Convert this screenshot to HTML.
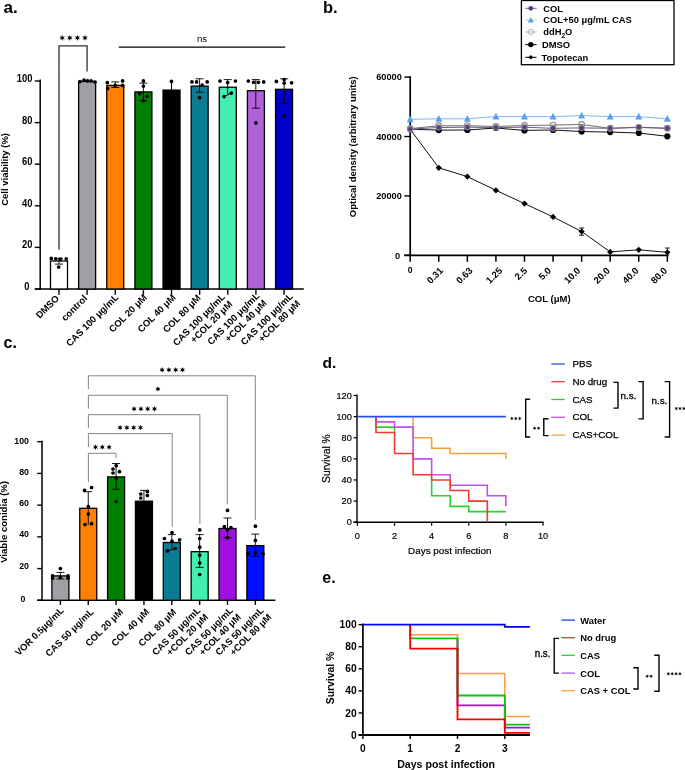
<!DOCTYPE html>
<html><head><meta charset="utf-8"><style>
html,body{margin:0;padding:0;background:#fff;width:685px;height:770px;overflow:hidden}
svg{display:block;font-family:"Liberation Sans", sans-serif;will-change:transform}
</style></head><body>
<svg width="685" height="770" viewBox="0 0 685 770">
<rect width="685" height="770" fill="#fff"/>
<text x="3.50" y="13.20" font-size="17" font-weight="bold" text-anchor="start" fill="#000">a.</text>
<line x1="40.20" y1="79.40" x2="40.20" y2="289.70" stroke="#000" stroke-width="1.5"/>
<line x1="34.80" y1="289.00" x2="40.20" y2="289.00" stroke="#000" stroke-width="1.4"/>
<text x="0.00" y="0.00" font-size="10.4" font-weight="bold" text-anchor="end" fill="#000" transform="translate(29.40 290.00) scale(0.9 1)">0</text>
<line x1="34.80" y1="247.40" x2="40.20" y2="247.40" stroke="#000" stroke-width="1.4"/>
<text x="0.00" y="0.00" font-size="10.4" font-weight="bold" text-anchor="end" fill="#000" transform="translate(32.40 248.40) scale(0.9 1)">20</text>
<line x1="34.80" y1="205.80" x2="40.20" y2="205.80" stroke="#000" stroke-width="1.4"/>
<text x="0.00" y="0.00" font-size="10.4" font-weight="bold" text-anchor="end" fill="#000" transform="translate(32.40 206.80) scale(0.9 1)">40</text>
<line x1="34.80" y1="164.20" x2="40.20" y2="164.20" stroke="#000" stroke-width="1.4"/>
<text x="0.00" y="0.00" font-size="10.4" font-weight="bold" text-anchor="end" fill="#000" transform="translate(32.40 165.20) scale(0.9 1)">60</text>
<line x1="34.80" y1="122.60" x2="40.20" y2="122.60" stroke="#000" stroke-width="1.4"/>
<text x="0.00" y="0.00" font-size="10.4" font-weight="bold" text-anchor="end" fill="#000" transform="translate(32.40 123.60) scale(0.9 1)">80</text>
<line x1="34.80" y1="81.00" x2="40.20" y2="81.00" stroke="#000" stroke-width="1.4"/>
<text x="0.00" y="0.00" font-size="10.4" font-weight="bold" text-anchor="end" fill="#000" transform="translate(32.40 82.00) scale(0.9 1)">100</text>
<line x1="34.80" y1="289.00" x2="303.80" y2="289.00" stroke="#000" stroke-width="1.5"/>
<rect x="50.50" y="261.00" width="17.00" height="28.00" fill="#ffffff" stroke="#000" stroke-width="1.3"/>
<line x1="59.00" y1="289.00" x2="59.00" y2="294.80" stroke="#000" stroke-width="1.4"/>
<rect x="78.63" y="81.40" width="17.00" height="207.60" fill="#a0a0a4" stroke="#000" stroke-width="1.3"/>
<line x1="87.13" y1="289.00" x2="87.13" y2="294.80" stroke="#000" stroke-width="1.4"/>
<rect x="106.76" y="85.40" width="17.00" height="203.60" fill="#ff8000" stroke="#000" stroke-width="1.3"/>
<line x1="115.26" y1="289.00" x2="115.26" y2="294.80" stroke="#000" stroke-width="1.4"/>
<rect x="134.89" y="91.90" width="17.00" height="197.10" fill="#008000" stroke="#000" stroke-width="1.3"/>
<line x1="143.39" y1="289.00" x2="143.39" y2="294.80" stroke="#000" stroke-width="1.4"/>
<rect x="163.02" y="90.10" width="17.00" height="198.90" fill="#000000" stroke="#000" stroke-width="1.3"/>
<line x1="171.52" y1="289.00" x2="171.52" y2="294.80" stroke="#000" stroke-width="1.4"/>
<rect x="191.15" y="86.10" width="17.00" height="202.90" fill="#0a7c93" stroke="#000" stroke-width="1.3"/>
<line x1="199.65" y1="289.00" x2="199.65" y2="294.80" stroke="#000" stroke-width="1.4"/>
<rect x="219.28" y="87.20" width="17.00" height="201.80" fill="#44eeb0" stroke="#000" stroke-width="1.3"/>
<line x1="227.78" y1="289.00" x2="227.78" y2="294.80" stroke="#000" stroke-width="1.4"/>
<rect x="247.41" y="90.70" width="17.00" height="198.30" fill="#b060d8" stroke="#000" stroke-width="1.3"/>
<line x1="255.91" y1="289.00" x2="255.91" y2="294.80" stroke="#000" stroke-width="1.4"/>
<rect x="275.54" y="89.30" width="17.00" height="199.70" fill="#0000c8" stroke="#000" stroke-width="1.3"/>
<line x1="284.04" y1="289.00" x2="284.04" y2="294.80" stroke="#000" stroke-width="1.4"/>
<line x1="59.00" y1="258.30" x2="59.00" y2="264.10" stroke="#000" stroke-width="0.9"/>
<line x1="55.00" y1="258.30" x2="63.00" y2="258.30" stroke="#000" stroke-width="0.9"/>
<line x1="55.00" y1="264.10" x2="63.00" y2="264.10" stroke="#000" stroke-width="0.9"/>
<circle cx="51.30" cy="258.40" r="1.85" fill="#000" stroke="none" stroke-width="0"/>
<circle cx="55.70" cy="258.80" r="1.85" fill="#000" stroke="none" stroke-width="0"/>
<circle cx="60.40" cy="259.20" r="1.85" fill="#000" stroke="none" stroke-width="0"/>
<circle cx="66.20" cy="258.80" r="1.85" fill="#000" stroke="none" stroke-width="0"/>
<circle cx="58.70" cy="267.10" r="1.85" fill="#000" stroke="none" stroke-width="0"/>
<circle cx="80.00" cy="81.60" r="1.85" fill="#000" stroke="none" stroke-width="0"/>
<circle cx="84.00" cy="80.00" r="1.85" fill="#000" stroke="none" stroke-width="0"/>
<circle cx="87.50" cy="80.90" r="1.85" fill="#000" stroke="none" stroke-width="0"/>
<circle cx="91.00" cy="80.90" r="1.85" fill="#000" stroke="none" stroke-width="0"/>
<circle cx="95.00" cy="82.00" r="1.85" fill="#000" stroke="none" stroke-width="0"/>
<line x1="115.30" y1="81.90" x2="115.30" y2="87.50" stroke="#000" stroke-width="0.9"/>
<line x1="111.30" y1="81.90" x2="119.30" y2="81.90" stroke="#000" stroke-width="0.9"/>
<line x1="111.30" y1="87.50" x2="119.30" y2="87.50" stroke="#000" stroke-width="0.9"/>
<circle cx="107.30" cy="82.60" r="1.85" fill="#000" stroke="none" stroke-width="0"/>
<circle cx="122.60" cy="80.90" r="1.85" fill="#000" stroke="none" stroke-width="0"/>
<circle cx="115.20" cy="85.40" r="1.85" fill="#000" stroke="none" stroke-width="0"/>
<circle cx="107.70" cy="88.40" r="1.85" fill="#000" stroke="none" stroke-width="0"/>
<circle cx="122.60" cy="85.40" r="1.85" fill="#000" stroke="none" stroke-width="0"/>
<line x1="143.40" y1="83.10" x2="143.40" y2="100.70" stroke="#000" stroke-width="0.9"/>
<line x1="139.40" y1="83.10" x2="147.40" y2="83.10" stroke="#000" stroke-width="0.9"/>
<line x1="139.40" y1="100.70" x2="147.40" y2="100.70" stroke="#000" stroke-width="0.9"/>
<circle cx="143.40" cy="80.90" r="1.85" fill="#000" stroke="none" stroke-width="0"/>
<circle cx="143.40" cy="86.10" r="1.85" fill="#000" stroke="none" stroke-width="0"/>
<circle cx="139.70" cy="93.70" r="1.85" fill="#000" stroke="none" stroke-width="0"/>
<circle cx="147.10" cy="96.30" r="1.85" fill="#000" stroke="none" stroke-width="0"/>
<circle cx="143.40" cy="100.70" r="1.85" fill="#000" stroke="none" stroke-width="0"/>
<line x1="171.50" y1="81.40" x2="171.50" y2="90.10" stroke="#000" stroke-width="1"/>
<circle cx="171.50" cy="81.40" r="1.85" fill="#000" stroke="none" stroke-width="0"/>
<line x1="199.60" y1="78.80" x2="199.60" y2="92.20" stroke="#000" stroke-width="0.9"/>
<line x1="195.60" y1="78.80" x2="203.60" y2="78.80" stroke="#000" stroke-width="0.9"/>
<line x1="195.60" y1="92.20" x2="203.60" y2="92.20" stroke="#000" stroke-width="0.9"/>
<circle cx="191.90" cy="81.90" r="1.85" fill="#000" stroke="none" stroke-width="0"/>
<circle cx="196.60" cy="81.90" r="1.85" fill="#000" stroke="none" stroke-width="0"/>
<circle cx="202.20" cy="85.00" r="1.85" fill="#000" stroke="none" stroke-width="0"/>
<circle cx="207.20" cy="81.90" r="1.85" fill="#000" stroke="none" stroke-width="0"/>
<circle cx="199.60" cy="97.70" r="1.85" fill="#000" stroke="none" stroke-width="0"/>
<line x1="227.70" y1="79.60" x2="227.70" y2="94.00" stroke="#000" stroke-width="0.9"/>
<line x1="223.70" y1="79.60" x2="231.70" y2="79.60" stroke="#000" stroke-width="0.9"/>
<circle cx="220.00" cy="81.00" r="1.85" fill="#000" stroke="none" stroke-width="0"/>
<circle cx="227.70" cy="82.60" r="1.85" fill="#000" stroke="none" stroke-width="0"/>
<circle cx="235.40" cy="81.00" r="1.85" fill="#000" stroke="none" stroke-width="0"/>
<circle cx="224.10" cy="96.60" r="1.85" fill="#000" stroke="none" stroke-width="0"/>
<circle cx="231.30" cy="93.10" r="1.85" fill="#000" stroke="none" stroke-width="0"/>
<line x1="224.10" y1="96.60" x2="231.30" y2="93.10" stroke="#000" stroke-width="1"/>
<line x1="255.80" y1="79.60" x2="255.80" y2="108.20" stroke="#000" stroke-width="0.9"/>
<line x1="251.80" y1="79.60" x2="259.80" y2="79.60" stroke="#000" stroke-width="0.9"/>
<line x1="251.80" y1="108.20" x2="259.80" y2="108.20" stroke="#000" stroke-width="0.9"/>
<circle cx="248.30" cy="81.00" r="1.85" fill="#000" stroke="none" stroke-width="0"/>
<circle cx="253.60" cy="82.30" r="1.85" fill="#000" stroke="none" stroke-width="0"/>
<circle cx="258.30" cy="82.30" r="1.85" fill="#000" stroke="none" stroke-width="0"/>
<circle cx="263.70" cy="81.90" r="1.85" fill="#000" stroke="none" stroke-width="0"/>
<circle cx="255.80" cy="122.90" r="1.85" fill="#000" stroke="none" stroke-width="0"/>
<line x1="284.20" y1="78.80" x2="284.20" y2="103.60" stroke="#000" stroke-width="0.9"/>
<line x1="280.20" y1="78.80" x2="288.20" y2="78.80" stroke="#000" stroke-width="0.9"/>
<line x1="280.20" y1="103.60" x2="288.20" y2="103.60" stroke="#000" stroke-width="0.9"/>
<circle cx="276.40" cy="81.40" r="1.85" fill="#000" stroke="none" stroke-width="0"/>
<circle cx="284.20" cy="79.60" r="1.85" fill="#000" stroke="none" stroke-width="0"/>
<circle cx="284.20" cy="83.10" r="1.85" fill="#000" stroke="none" stroke-width="0"/>
<circle cx="291.60" cy="82.80" r="1.85" fill="#000" stroke="none" stroke-width="0"/>
<circle cx="284.20" cy="115.90" r="1.85" fill="#000" stroke="none" stroke-width="0"/>
<path d="M59,249.7 L59,45.9 L87.1,45.9 L87.1,71.4" stroke="#333" stroke-width="1.3" fill="none"/>
<polygon points="62.20,34.80 62.82,36.83 64.88,36.35 63.44,37.90 64.88,39.45 62.82,38.97 62.20,41.00 61.58,38.97 59.52,39.45 60.96,37.90 59.52,36.35 61.58,36.83" fill="#000"/>
<polygon points="69.80,34.80 70.42,36.83 72.48,36.35 71.04,37.90 72.48,39.45 70.42,38.97 69.80,41.00 69.18,38.97 67.12,39.45 68.56,37.90 67.12,36.35 69.18,36.83" fill="#000"/>
<polygon points="77.40,34.80 78.02,36.83 80.08,36.35 78.64,37.90 80.08,39.45 78.02,38.97 77.40,41.00 76.78,38.97 74.72,39.45 76.16,37.90 74.72,36.35 76.78,36.83" fill="#000"/>
<polygon points="85.00,34.80 85.62,36.83 87.68,36.35 86.24,37.90 87.68,39.45 85.62,38.97 85.00,41.00 84.38,38.97 82.32,39.45 83.76,37.90 82.32,36.35 84.38,36.83" fill="#000"/>
<line x1="118.80" y1="47.20" x2="285.20" y2="47.20" stroke="#000" stroke-width="1.3"/>
<text x="202.00" y="42.00" font-size="9.6" text-anchor="middle" fill="#000">ns</text>
<text x="7.80" y="169.40" font-size="9.5" font-weight="bold" text-anchor="middle" fill="#000" transform="rotate(-90 7.80 169.40)">Cell viability (%)</text>
<text x="59.70" y="299.00" font-size="9.45" font-weight="bold" text-anchor="end" fill="#000" transform="rotate(-45 59.70 299.00)">DMSO</text>
<text x="87.83" y="299.00" font-size="9.45" font-weight="bold" text-anchor="end" fill="#000" transform="rotate(-45 87.83 299.00)">control</text>
<text x="118.96" y="298.00" font-size="9.45" font-weight="bold" text-anchor="end" fill="#000" transform="rotate(-45 118.96 298.00)">CAS 100 μg/mL</text>
<text x="147.59" y="298.20" font-size="9.45" font-weight="bold" text-anchor="end" fill="#000" transform="rotate(-45 147.59 298.20)">COL 20 μM</text>
<text x="176.22" y="298.20" font-size="9.45" font-weight="bold" text-anchor="end" fill="#000" transform="rotate(-45 176.22 298.20)">COL 40 μM</text>
<text x="201.45" y="298.50" font-size="9.45" font-weight="bold" text-anchor="end" fill="#000" transform="rotate(-45 201.45 298.50)">COL 80 μM</text>
<text x="225.68" y="297.50" font-size="9.45" font-weight="bold" text-anchor="end" fill="#000" transform="rotate(-45 225.68 297.50)">CAS 100 μg/mL</text>
<text x="232.96" y="304.78" font-size="9.45" font-weight="bold" text-anchor="end" fill="#000" transform="rotate(-45 232.96 304.78)">+COL 20 μM</text>
<text x="260.11" y="296.50" font-size="9.45" font-weight="bold" text-anchor="end" fill="#000" transform="rotate(-45 260.11 296.50)">CAS 100 μg/mL</text>
<text x="267.39" y="303.78" font-size="9.45" font-weight="bold" text-anchor="end" fill="#000" transform="rotate(-45 267.39 303.78)">+COL 40 μM</text>
<text x="293.54" y="296.80" font-size="9.45" font-weight="bold" text-anchor="end" fill="#000" transform="rotate(-45 293.54 296.80)">CAS 100 μg/mL</text>
<text x="300.82" y="304.08" font-size="9.45" font-weight="bold" text-anchor="end" fill="#000" transform="rotate(-45 300.82 304.08)">+COL 80 μM</text>
<text x="323.00" y="13.00" font-size="16.5" font-weight="bold" text-anchor="start" fill="#000">b.</text>
<line x1="410.20" y1="76.20" x2="410.20" y2="256.10" stroke="#000" stroke-width="1.7"/>
<line x1="404.30" y1="255.30" x2="410.20" y2="255.30" stroke="#000" stroke-width="1.4"/>
<text x="400.20" y="258.60" font-size="9.2" font-weight="bold" text-anchor="end" fill="#000">0</text>
<line x1="404.30" y1="195.90" x2="410.20" y2="195.90" stroke="#000" stroke-width="1.4"/>
<text x="401.80" y="199.20" font-size="9.2" font-weight="bold" text-anchor="end" fill="#000">20000</text>
<line x1="404.30" y1="136.50" x2="410.20" y2="136.50" stroke="#000" stroke-width="1.4"/>
<text x="401.80" y="139.80" font-size="9.2" font-weight="bold" text-anchor="end" fill="#000">40000</text>
<line x1="404.30" y1="77.10" x2="410.20" y2="77.10" stroke="#000" stroke-width="1.4"/>
<text x="401.80" y="80.40" font-size="9.2" font-weight="bold" text-anchor="end" fill="#000">60000</text>
<line x1="404.30" y1="255.30" x2="668.60" y2="255.30" stroke="#000" stroke-width="1.7"/>
<line x1="410.20" y1="255.30" x2="410.20" y2="261.80" stroke="#000" stroke-width="1.5"/>
<line x1="438.77" y1="255.30" x2="438.77" y2="261.80" stroke="#000" stroke-width="1.5"/>
<line x1="467.34" y1="255.30" x2="467.34" y2="261.80" stroke="#000" stroke-width="1.5"/>
<line x1="495.91" y1="255.30" x2="495.91" y2="261.80" stroke="#000" stroke-width="1.5"/>
<line x1="524.48" y1="255.30" x2="524.48" y2="261.80" stroke="#000" stroke-width="1.5"/>
<line x1="553.05" y1="255.30" x2="553.05" y2="261.80" stroke="#000" stroke-width="1.5"/>
<line x1="581.62" y1="255.30" x2="581.62" y2="261.80" stroke="#000" stroke-width="1.5"/>
<line x1="610.19" y1="255.30" x2="610.19" y2="261.80" stroke="#000" stroke-width="1.5"/>
<line x1="638.76" y1="255.30" x2="638.76" y2="261.80" stroke="#000" stroke-width="1.5"/>
<line x1="667.33" y1="255.30" x2="667.33" y2="261.80" stroke="#000" stroke-width="1.5"/>
<text x="410.20" y="273.00" font-size="8.6" font-weight="bold" text-anchor="middle" fill="#000">0</text>
<text x="443.77" y="271.20" font-size="9.5" font-weight="bold" text-anchor="end" fill="#000" transform="rotate(-45 443.77 271.20)">0.31</text>
<text x="473.14" y="271.20" font-size="9.5" font-weight="bold" text-anchor="end" fill="#000" transform="rotate(-45 473.14 271.20)">0.63</text>
<text x="502.91" y="271.20" font-size="9.5" font-weight="bold" text-anchor="end" fill="#000" transform="rotate(-45 502.91 271.20)">1.25</text>
<text x="527.98" y="271.20" font-size="9.5" font-weight="bold" text-anchor="end" fill="#000" transform="rotate(-45 527.98 271.20)">2.5</text>
<text x="551.85" y="271.20" font-size="9.5" font-weight="bold" text-anchor="end" fill="#000" transform="rotate(-45 551.85 271.20)">5.0</text>
<text x="581.12" y="271.20" font-size="9.5" font-weight="bold" text-anchor="end" fill="#000" transform="rotate(-45 581.12 271.20)">10.0</text>
<text x="610.49" y="271.20" font-size="9.5" font-weight="bold" text-anchor="end" fill="#000" transform="rotate(-45 610.49 271.20)">20.0</text>
<text x="639.26" y="271.20" font-size="9.5" font-weight="bold" text-anchor="end" fill="#000" transform="rotate(-45 639.26 271.20)">40.0</text>
<text x="667.83" y="271.20" font-size="9.5" font-weight="bold" text-anchor="end" fill="#000" transform="rotate(-45 667.83 271.20)">80.0</text>
<text x="549.30" y="302.20" font-size="9.5" font-weight="bold" text-anchor="middle" fill="#000">COL (μM)</text>
<text x="355.60" y="146.70" font-size="9.5" font-weight="bold" text-anchor="middle" fill="#000" transform="rotate(-90 355.60 146.70)">Optical density (arbitrary units)</text>
<path d="M410.20,119.40 L438.77,118.80 L467.34,118.80 L495.91,116.60 L524.48,116.60 L553.05,116.60 L581.62,115.60 L610.19,116.60 L638.76,116.60 L667.33,118.80" stroke="#80b8f8" stroke-width="1.0" fill="none"/>
<path d="M410.20,128.60 L438.77,125.80 L467.34,125.70 L495.91,126.50 L524.48,125.50 L553.05,125.10 L581.62,124.50 L610.19,128.30 L638.76,127.50 L667.33,128.30" stroke="#6e6e6e" stroke-width="1.0" fill="none"/>
<path d="M410.20,129.20 L438.77,130.10 L467.34,130.00 L495.91,128.00 L524.48,130.40 L553.05,130.00 L581.62,131.50 L610.19,132.10 L638.76,133.00 L667.33,136.30" stroke="#111" stroke-width="1.0" fill="none"/>
<path d="M410.20,129.20 L438.77,127.50 L467.34,127.20 L495.91,127.50 L524.48,127.20 L553.05,128.30 L581.62,127.90 L610.19,128.30 L638.76,127.20 L667.33,128.30" stroke="#6a5a7a" stroke-width="1.0" fill="none"/>
<path d="M410.20,129.20 L438.77,167.80 L467.34,176.60 L495.91,190.30 L524.48,203.60 L553.05,216.90 L581.62,231.50 L610.19,251.90 L638.76,249.80 L667.33,252.30" stroke="#111" stroke-width="1.0" fill="none"/>
<path d="M410.20,126.10 L413.30,129.20 L410.20,132.30 L407.10,129.20 Z" fill="#000"/>
<path d="M438.77,164.70 L441.87,167.80 L438.77,170.90 L435.67,167.80 Z" fill="#000"/>
<path d="M467.34,173.50 L470.44,176.60 L467.34,179.70 L464.24,176.60 Z" fill="#000"/>
<path d="M495.91,187.20 L499.01,190.30 L495.91,193.40 L492.81,190.30 Z" fill="#000"/>
<path d="M524.48,200.50 L527.58,203.60 L524.48,206.70 L521.38,203.60 Z" fill="#000"/>
<path d="M553.05,213.80 L556.15,216.90 L553.05,220.00 L549.95,216.90 Z" fill="#000"/>
<path d="M581.62,228.40 L584.72,231.50 L581.62,234.60 L578.52,231.50 Z" fill="#000"/>
<path d="M610.19,248.80 L613.29,251.90 L610.19,255.00 L607.09,251.90 Z" fill="#000"/>
<path d="M638.76,246.70 L641.86,249.80 L638.76,252.90 L635.66,249.80 Z" fill="#000"/>
<path d="M667.33,249.20 L670.43,252.30 L667.33,255.40 L664.23,252.30 Z" fill="#000"/>
<circle cx="410.20" cy="129.20" r="3.1" fill="#000" stroke="none" stroke-width="0"/>
<circle cx="438.77" cy="130.10" r="3.1" fill="#000" stroke="none" stroke-width="0"/>
<circle cx="467.34" cy="130.00" r="3.1" fill="#000" stroke="none" stroke-width="0"/>
<circle cx="495.91" cy="128.00" r="3.1" fill="#000" stroke="none" stroke-width="0"/>
<circle cx="524.48" cy="130.40" r="3.1" fill="#000" stroke="none" stroke-width="0"/>
<circle cx="553.05" cy="130.00" r="3.1" fill="#000" stroke="none" stroke-width="0"/>
<circle cx="581.62" cy="131.50" r="3.1" fill="#000" stroke="none" stroke-width="0"/>
<circle cx="610.19" cy="132.10" r="3.1" fill="#000" stroke="none" stroke-width="0"/>
<circle cx="638.76" cy="133.00" r="3.1" fill="#000" stroke="none" stroke-width="0"/>
<circle cx="667.33" cy="136.30" r="3.1" fill="#000" stroke="none" stroke-width="0"/>
<circle cx="410.20" cy="128.60" r="2.9" fill="none" stroke="#8a8a8a" stroke-width="1.1"/>
<circle cx="438.77" cy="125.80" r="2.9" fill="none" stroke="#8a8a8a" stroke-width="1.1"/>
<circle cx="467.34" cy="125.70" r="2.9" fill="none" stroke="#8a8a8a" stroke-width="1.1"/>
<circle cx="495.91" cy="126.50" r="2.9" fill="none" stroke="#8a8a8a" stroke-width="1.1"/>
<circle cx="524.48" cy="125.50" r="2.9" fill="none" stroke="#8a8a8a" stroke-width="1.1"/>
<circle cx="553.05" cy="125.10" r="2.9" fill="none" stroke="#8a8a8a" stroke-width="1.1"/>
<circle cx="581.62" cy="124.50" r="2.9" fill="none" stroke="#8a8a8a" stroke-width="1.1"/>
<circle cx="610.19" cy="128.30" r="2.9" fill="none" stroke="#8a8a8a" stroke-width="1.1"/>
<circle cx="638.76" cy="127.50" r="2.9" fill="none" stroke="#8a8a8a" stroke-width="1.1"/>
<circle cx="667.33" cy="128.30" r="2.9" fill="none" stroke="#8a8a8a" stroke-width="1.1"/>
<circle cx="410.20" cy="129.20" r="2.8" fill="#5c3c7c" stroke="#9a90a4" stroke-width="1.0"/>
<circle cx="438.77" cy="127.50" r="2.8" fill="#5c3c7c" stroke="#9a90a4" stroke-width="1.0"/>
<circle cx="467.34" cy="127.20" r="2.8" fill="#5c3c7c" stroke="#9a90a4" stroke-width="1.0"/>
<circle cx="495.91" cy="127.50" r="2.8" fill="#5c3c7c" stroke="#9a90a4" stroke-width="1.0"/>
<circle cx="524.48" cy="127.20" r="2.8" fill="#5c3c7c" stroke="#9a90a4" stroke-width="1.0"/>
<circle cx="553.05" cy="128.30" r="2.8" fill="#5c3c7c" stroke="#9a90a4" stroke-width="1.0"/>
<circle cx="581.62" cy="127.90" r="2.8" fill="#5c3c7c" stroke="#9a90a4" stroke-width="1.0"/>
<circle cx="610.19" cy="128.30" r="2.8" fill="#5c3c7c" stroke="#9a90a4" stroke-width="1.0"/>
<circle cx="638.76" cy="127.20" r="2.8" fill="#5c3c7c" stroke="#9a90a4" stroke-width="1.0"/>
<circle cx="667.33" cy="128.30" r="2.8" fill="#5c3c7c" stroke="#9a90a4" stroke-width="1.0"/>
<path d="M410.20,115.60 L413.70,122.30 L406.70,122.30 Z" fill="#5aa0f0"/>
<path d="M438.77,115.00 L442.27,121.70 L435.27,121.70 Z" fill="#5aa0f0"/>
<path d="M467.34,115.00 L470.84,121.70 L463.84,121.70 Z" fill="#5aa0f0"/>
<path d="M495.91,112.80 L499.41,119.50 L492.41,119.50 Z" fill="#5aa0f0"/>
<path d="M524.48,112.80 L527.98,119.50 L520.98,119.50 Z" fill="#5aa0f0"/>
<path d="M553.05,112.80 L556.55,119.50 L549.55,119.50 Z" fill="#5aa0f0"/>
<path d="M581.62,111.80 L585.12,118.50 L578.12,118.50 Z" fill="#5aa0f0"/>
<path d="M610.19,112.80 L613.69,119.50 L606.69,119.50 Z" fill="#5aa0f0"/>
<path d="M638.76,112.80 L642.26,119.50 L635.26,119.50 Z" fill="#5aa0f0"/>
<path d="M667.33,115.00 L670.83,121.70 L663.83,121.70 Z" fill="#5aa0f0"/>
<line x1="581.62" y1="228.00" x2="581.62" y2="235.20" stroke="#000" stroke-width="0.9"/>
<line x1="579.12" y1="228.00" x2="584.12" y2="228.00" stroke="#000" stroke-width="0.9"/>
<line x1="579.12" y1="235.20" x2="584.12" y2="235.20" stroke="#000" stroke-width="0.9"/>
<line x1="667.33" y1="248.00" x2="667.33" y2="256.00" stroke="#000" stroke-width="0.9"/>
<line x1="664.83" y1="248.00" x2="669.83" y2="248.00" stroke="#000" stroke-width="0.9"/>
<rect x="521.40" y="0.50" width="152.60" height="64.20" fill="none" stroke="#000" stroke-width="1.3"/>
<line x1="525.20" y1="8.30" x2="536.60" y2="8.30" stroke="#7a6a90" stroke-width="1.0"/>
<text x="543.20" y="11.50" font-size="9.4" font-weight="bold" text-anchor="start" fill="#000">COL</text>
<line x1="525.20" y1="20.10" x2="536.60" y2="20.10" stroke="#a8d0f8" stroke-width="1.0"/>
<text x="543.20" y="23.30" font-size="9.4" font-weight="bold" text-anchor="start" fill="#000">COL+50 μg/mL CAS</text>
<line x1="525.20" y1="32.00" x2="536.60" y2="32.00" stroke="#b8b8b8" stroke-width="1.0"/>
<text x="543.20" y="35.20" font-size="9.4" font-weight="bold" text-anchor="start" fill="#000">ddH<tspan font-size="6.5" dy="2.5">2</tspan><tspan dy="-2.5">O</tspan></text>
<line x1="525.20" y1="44.60" x2="536.60" y2="44.60" stroke="#000" stroke-width="1.0"/>
<text x="542.00" y="47.80" font-size="9.4" font-weight="bold" text-anchor="start" fill="#000">DMSO</text>
<line x1="525.20" y1="57.30" x2="536.60" y2="57.30" stroke="#000" stroke-width="1.0"/>
<text x="541.60" y="60.50" font-size="9.4" font-weight="bold" text-anchor="start" fill="#000">Topotecan</text>
<circle cx="530.80" cy="8.30" r="2.4" fill="#5c3c7c" stroke="none" stroke-width="0"/>
<path d="M530.8,17.0 L533.8,22.6 L527.8,22.6 Z" fill="#5aa0f0"/>
<circle cx="530.80" cy="32.00" r="2.6" fill="none" stroke="#b0b0b0" stroke-width="1.0"/>
<circle cx="530.80" cy="44.60" r="2.7" fill="#000" stroke="none" stroke-width="0"/>
<path d="M530.8,55.0 L533.1,57.3 L530.8,59.6 L528.5,57.3 Z" fill="#000"/>
<text x="3.50" y="348.20" font-size="16" font-weight="bold" text-anchor="start" fill="#000">c.</text>
<line x1="42.00" y1="440.80" x2="42.00" y2="601.00" stroke="#000" stroke-width="1.5"/>
<line x1="37.20" y1="600.30" x2="42.00" y2="600.30" stroke="#000" stroke-width="1.4"/>
<text x="0.00" y="0.00" font-size="9.5" font-weight="bold" text-anchor="end" fill="#000" transform="translate(25.30 602.00) scale(0.93 1)">0</text>
<line x1="37.20" y1="568.58" x2="42.00" y2="568.58" stroke="#000" stroke-width="1.4"/>
<text x="0.00" y="0.00" font-size="9.5" font-weight="bold" text-anchor="end" fill="#000" transform="translate(29.00 568.68) scale(0.93 1)">20</text>
<line x1="37.20" y1="536.86" x2="42.00" y2="536.86" stroke="#000" stroke-width="1.4"/>
<text x="0.00" y="0.00" font-size="9.5" font-weight="bold" text-anchor="end" fill="#000" transform="translate(29.00 537.36) scale(0.93 1)">40</text>
<line x1="37.20" y1="505.14" x2="42.00" y2="505.14" stroke="#000" stroke-width="1.4"/>
<text x="0.00" y="0.00" font-size="9.5" font-weight="bold" text-anchor="end" fill="#000" transform="translate(29.00 506.04) scale(0.93 1)">60</text>
<line x1="37.20" y1="473.42" x2="42.00" y2="473.42" stroke="#000" stroke-width="1.4"/>
<text x="0.00" y="0.00" font-size="9.5" font-weight="bold" text-anchor="end" fill="#000" transform="translate(29.00 474.62) scale(0.93 1)">80</text>
<line x1="37.20" y1="441.70" x2="42.00" y2="441.70" stroke="#000" stroke-width="1.4"/>
<text x="0.00" y="0.00" font-size="9.5" font-weight="bold" text-anchor="end" fill="#000" transform="translate(29.00 443.80) scale(0.93 1)">100</text>
<line x1="37.20" y1="600.30" x2="275.40" y2="600.30" stroke="#000" stroke-width="1.5"/>
<rect x="51.90" y="575.90" width="17.00" height="24.40" fill="#a0a0a4" stroke="#000" stroke-width="1.3"/>
<line x1="60.40" y1="600.30" x2="60.40" y2="604.90" stroke="#000" stroke-width="1.4"/>
<rect x="79.75" y="508.30" width="17.00" height="92.00" fill="#ff8000" stroke="#000" stroke-width="1.3"/>
<line x1="88.25" y1="600.30" x2="88.25" y2="604.90" stroke="#000" stroke-width="1.4"/>
<rect x="107.60" y="476.90" width="17.00" height="123.40" fill="#008000" stroke="#000" stroke-width="1.3"/>
<line x1="116.10" y1="600.30" x2="116.10" y2="604.90" stroke="#000" stroke-width="1.4"/>
<rect x="135.45" y="501.20" width="17.00" height="99.10" fill="#000000" stroke="#000" stroke-width="1.3"/>
<line x1="143.95" y1="600.30" x2="143.95" y2="604.90" stroke="#000" stroke-width="1.4"/>
<rect x="163.30" y="542.50" width="17.00" height="57.80" fill="#0a7c93" stroke="#000" stroke-width="1.3"/>
<line x1="171.80" y1="600.30" x2="171.80" y2="604.90" stroke="#000" stroke-width="1.4"/>
<rect x="191.15" y="551.70" width="17.00" height="48.60" fill="#44eeb0" stroke="#000" stroke-width="1.3"/>
<line x1="199.65" y1="600.30" x2="199.65" y2="604.90" stroke="#000" stroke-width="1.4"/>
<rect x="219.00" y="528.50" width="17.00" height="71.80" fill="#a010e0" stroke="#000" stroke-width="1.3"/>
<line x1="227.50" y1="600.30" x2="227.50" y2="604.90" stroke="#000" stroke-width="1.4"/>
<rect x="246.85" y="545.60" width="17.00" height="54.70" fill="#0010ff" stroke="#000" stroke-width="1.3"/>
<line x1="255.35" y1="600.30" x2="255.35" y2="604.90" stroke="#000" stroke-width="1.4"/>
<line x1="60.40" y1="572.40" x2="60.40" y2="579.00" stroke="#000" stroke-width="0.9"/>
<line x1="56.40" y1="572.40" x2="64.40" y2="572.40" stroke="#000" stroke-width="0.9"/>
<line x1="56.40" y1="579.00" x2="64.40" y2="579.00" stroke="#000" stroke-width="0.9"/>
<circle cx="60.40" cy="568.50" r="1.85" fill="#000" stroke="none" stroke-width="0"/>
<circle cx="52.60" cy="575.90" r="1.85" fill="#000" stroke="none" stroke-width="0"/>
<circle cx="68.00" cy="575.90" r="1.85" fill="#000" stroke="none" stroke-width="0"/>
<circle cx="60.40" cy="577.30" r="1.85" fill="#000" stroke="none" stroke-width="0"/>
<circle cx="52.60" cy="578.20" r="1.85" fill="#000" stroke="none" stroke-width="0"/>
<circle cx="68.00" cy="578.20" r="1.85" fill="#000" stroke="none" stroke-width="0"/>
<line x1="88.25" y1="491.70" x2="88.25" y2="525.00" stroke="#000" stroke-width="0.9"/>
<line x1="84.25" y1="491.70" x2="92.25" y2="491.70" stroke="#000" stroke-width="0.9"/>
<circle cx="84.60" cy="490.40" r="1.85" fill="#000" stroke="none" stroke-width="0"/>
<circle cx="91.60" cy="487.50" r="1.85" fill="#000" stroke="none" stroke-width="0"/>
<circle cx="88.30" cy="506.60" r="1.85" fill="#000" stroke="none" stroke-width="0"/>
<circle cx="88.30" cy="514.10" r="1.85" fill="#000" stroke="none" stroke-width="0"/>
<circle cx="85.00" cy="524.60" r="1.85" fill="#000" stroke="none" stroke-width="0"/>
<circle cx="91.60" cy="523.70" r="1.85" fill="#000" stroke="none" stroke-width="0"/>
<line x1="116.10" y1="463.50" x2="116.10" y2="489.30" stroke="#000" stroke-width="0.9"/>
<line x1="112.10" y1="463.50" x2="120.10" y2="463.50" stroke="#000" stroke-width="0.9"/>
<line x1="112.10" y1="489.30" x2="120.10" y2="489.30" stroke="#000" stroke-width="0.9"/>
<circle cx="116.20" cy="465.70" r="1.85" fill="#000" stroke="none" stroke-width="0"/>
<circle cx="113.00" cy="469.00" r="1.85" fill="#000" stroke="none" stroke-width="0"/>
<circle cx="113.00" cy="473.00" r="1.85" fill="#000" stroke="none" stroke-width="0"/>
<circle cx="119.50" cy="471.70" r="1.85" fill="#000" stroke="none" stroke-width="0"/>
<circle cx="116.20" cy="478.00" r="1.85" fill="#000" stroke="none" stroke-width="0"/>
<circle cx="116.20" cy="501.50" r="1.85" fill="#000" stroke="none" stroke-width="0"/>
<line x1="143.95" y1="490.40" x2="143.95" y2="501.20" stroke="#000" stroke-width="0.9"/>
<line x1="139.95" y1="490.40" x2="147.95" y2="490.40" stroke="#000" stroke-width="0.9"/>
<circle cx="140.80" cy="494.00" r="1.85" fill="#000" stroke="none" stroke-width="0"/>
<circle cx="147.40" cy="491.40" r="1.85" fill="#000" stroke="none" stroke-width="0"/>
<circle cx="147.40" cy="495.40" r="1.85" fill="#000" stroke="none" stroke-width="0"/>
<circle cx="140.80" cy="498.00" r="1.85" fill="#000" stroke="none" stroke-width="0"/>
<line x1="171.80" y1="534.60" x2="171.80" y2="548.50" stroke="#000" stroke-width="0.9"/>
<line x1="167.80" y1="534.60" x2="175.80" y2="534.60" stroke="#000" stroke-width="0.9"/>
<circle cx="172.00" cy="532.50" r="1.85" fill="#000" stroke="none" stroke-width="0"/>
<circle cx="164.40" cy="538.50" r="1.85" fill="#000" stroke="none" stroke-width="0"/>
<circle cx="179.60" cy="539.80" r="1.85" fill="#000" stroke="none" stroke-width="0"/>
<circle cx="172.00" cy="541.20" r="1.85" fill="#000" stroke="none" stroke-width="0"/>
<circle cx="167.40" cy="550.90" r="1.85" fill="#000" stroke="none" stroke-width="0"/>
<circle cx="175.20" cy="548.50" r="1.85" fill="#000" stroke="none" stroke-width="0"/>
<line x1="167.40" y1="550.90" x2="175.20" y2="548.50" stroke="#000" stroke-width="1"/>
<line x1="199.65" y1="534.60" x2="199.65" y2="567.40" stroke="#000" stroke-width="0.9"/>
<line x1="195.65" y1="534.60" x2="203.65" y2="534.60" stroke="#000" stroke-width="0.9"/>
<line x1="195.65" y1="567.40" x2="203.65" y2="567.40" stroke="#000" stroke-width="0.9"/>
<circle cx="199.70" cy="529.90" r="1.85" fill="#000" stroke="none" stroke-width="0"/>
<circle cx="199.70" cy="538.50" r="1.85" fill="#000" stroke="none" stroke-width="0"/>
<circle cx="199.70" cy="547.20" r="1.85" fill="#000" stroke="none" stroke-width="0"/>
<circle cx="199.70" cy="555.10" r="1.85" fill="#000" stroke="none" stroke-width="0"/>
<circle cx="199.70" cy="563.00" r="1.85" fill="#000" stroke="none" stroke-width="0"/>
<circle cx="199.70" cy="574.50" r="1.85" fill="#000" stroke="none" stroke-width="0"/>
<line x1="227.50" y1="518.00" x2="227.50" y2="537.70" stroke="#000" stroke-width="0.9"/>
<line x1="223.50" y1="518.00" x2="231.50" y2="518.00" stroke="#000" stroke-width="0.9"/>
<line x1="223.50" y1="537.70" x2="231.50" y2="537.70" stroke="#000" stroke-width="0.9"/>
<circle cx="227.50" cy="510.40" r="1.85" fill="#000" stroke="none" stroke-width="0"/>
<circle cx="224.30" cy="526.70" r="1.85" fill="#000" stroke="none" stroke-width="0"/>
<circle cx="230.90" cy="527.50" r="1.85" fill="#000" stroke="none" stroke-width="0"/>
<circle cx="227.50" cy="530.10" r="1.85" fill="#000" stroke="none" stroke-width="0"/>
<circle cx="227.50" cy="537.70" r="1.85" fill="#000" stroke="none" stroke-width="0"/>
<line x1="255.35" y1="534.10" x2="255.35" y2="556.40" stroke="#000" stroke-width="0.9"/>
<line x1="251.35" y1="534.10" x2="259.35" y2="534.10" stroke="#000" stroke-width="0.9"/>
<line x1="251.35" y1="556.40" x2="259.35" y2="556.40" stroke="#000" stroke-width="0.9"/>
<circle cx="255.40" cy="526.20" r="1.85" fill="#000" stroke="none" stroke-width="0"/>
<circle cx="255.40" cy="540.40" r="1.85" fill="#000" stroke="none" stroke-width="0"/>
<circle cx="248.00" cy="553.80" r="1.85" fill="#000" stroke="none" stroke-width="0"/>
<circle cx="255.40" cy="552.50" r="1.85" fill="#000" stroke="none" stroke-width="0"/>
<circle cx="263.00" cy="553.80" r="1.85" fill="#000" stroke="none" stroke-width="0"/>
<path d="M88.4,389.1 L88.4,375.8 L255.3,375.8 L255.3,520.1" stroke="#777" stroke-width="0.9" fill="none"/>
<path d="M88.4,408.5 L88.4,395.3 L227.3,395.3 L227.3,504.4" stroke="#777" stroke-width="0.9" fill="none"/>
<path d="M88.4,428.0 L88.4,414.7 L199.9,414.7 L199.9,524.0" stroke="#777" stroke-width="0.9" fill="none"/>
<path d="M88.4,447.0 L88.4,433.6 L172.2,433.6 L172.2,526.7" stroke="#777" stroke-width="0.9" fill="none"/>
<path d="M88.4,482.2 L88.4,453.3 L116.0,453.3 L116.0,458.0" stroke="#777" stroke-width="0.9" fill="none"/>
<polygon points="162.10,366.95 162.74,368.69 164.57,368.38 163.38,369.80 164.57,371.23 162.74,370.91 162.10,372.65 161.46,370.91 159.63,371.23 160.82,369.80 159.63,368.38 161.46,368.69" fill="#000"/>
<polygon points="168.90,366.95 169.54,368.69 171.37,368.38 170.18,369.80 171.37,371.23 169.54,370.91 168.90,372.65 168.26,370.91 166.43,371.23 167.62,369.80 166.43,368.38 168.26,368.69" fill="#000"/>
<polygon points="175.70,366.95 176.34,368.69 178.17,368.38 176.98,369.80 178.17,371.23 176.34,370.91 175.70,372.65 175.06,370.91 173.23,371.23 174.42,369.80 173.23,368.38 175.06,368.69" fill="#000"/>
<polygon points="182.50,366.95 183.14,368.69 184.97,368.38 183.78,369.80 184.97,371.23 183.14,370.91 182.50,372.65 181.86,370.91 180.03,371.23 181.22,369.80 180.03,368.38 181.86,368.69" fill="#000"/>
<polygon points="157.90,386.15 158.54,387.89 160.37,387.57 159.18,389.00 160.37,390.43 158.54,390.11 157.90,391.85 157.26,390.11 155.43,390.43 156.62,389.00 155.43,387.57 157.26,387.89" fill="#000"/>
<polygon points="134.10,405.95 134.74,407.69 136.57,407.38 135.38,408.80 136.57,410.23 134.74,409.91 134.10,411.65 133.46,409.91 131.63,410.23 132.82,408.80 131.63,407.38 133.46,407.69" fill="#000"/>
<polygon points="140.90,405.95 141.54,407.69 143.37,407.38 142.18,408.80 143.37,410.23 141.54,409.91 140.90,411.65 140.26,409.91 138.43,410.23 139.62,408.80 138.43,407.38 140.26,407.69" fill="#000"/>
<polygon points="147.70,405.95 148.34,407.69 150.17,407.38 148.98,408.80 150.17,410.23 148.34,409.91 147.70,411.65 147.06,409.91 145.23,410.23 146.42,408.80 145.23,407.38 147.06,407.69" fill="#000"/>
<polygon points="154.50,405.95 155.14,407.69 156.97,407.38 155.78,408.80 156.97,410.23 155.14,409.91 154.50,411.65 153.86,409.91 152.03,410.23 153.22,408.80 152.03,407.38 153.86,407.69" fill="#000"/>
<polygon points="120.10,424.85 120.74,426.59 122.57,426.27 121.38,427.70 122.57,429.12 120.74,428.81 120.10,430.55 119.46,428.81 117.63,429.12 118.82,427.70 117.63,426.27 119.46,426.59" fill="#000"/>
<polygon points="126.90,424.85 127.54,426.59 129.37,426.27 128.18,427.70 129.37,429.12 127.54,428.81 126.90,430.55 126.26,428.81 124.43,429.12 125.62,427.70 124.43,426.27 126.26,426.59" fill="#000"/>
<polygon points="133.70,424.85 134.34,426.59 136.17,426.27 134.98,427.70 136.17,429.12 134.34,428.81 133.70,430.55 133.06,428.81 131.23,429.12 132.42,427.70 131.23,426.27 133.06,426.59" fill="#000"/>
<polygon points="140.50,424.85 141.14,426.59 142.97,426.27 141.78,427.70 142.97,429.12 141.14,428.81 140.50,430.55 139.86,428.81 138.03,429.12 139.22,427.70 138.03,426.27 139.86,426.59" fill="#000"/>
<polygon points="95.50,444.25 96.14,445.99 97.97,445.68 96.78,447.10 97.97,448.53 96.14,448.21 95.50,449.95 94.86,448.21 93.03,448.53 94.22,447.10 93.03,445.68 94.86,445.99" fill="#000"/>
<polygon points="102.30,444.25 102.94,445.99 104.77,445.68 103.58,447.10 104.77,448.53 102.94,448.21 102.30,449.95 101.66,448.21 99.83,448.53 101.02,447.10 99.83,445.68 101.66,445.99" fill="#000"/>
<polygon points="109.10,444.25 109.74,445.99 111.57,445.68 110.38,447.10 111.57,448.53 109.74,448.21 109.10,449.95 108.46,448.21 106.63,448.53 107.82,447.10 106.63,445.68 108.46,445.99" fill="#000"/>
<text x="6.60" y="521.90" font-size="9.6" font-weight="bold" text-anchor="middle" fill="#000" transform="rotate(-90 6.60 521.90)">Viable conidia (%)</text>
<text x="64.40" y="611.00" font-size="9.4" font-weight="bold" text-anchor="end" fill="#000" transform="rotate(-45 64.40 611.00)">VOR 0.5μg/mL</text>
<text x="94.25" y="612.40" font-size="9.4" font-weight="bold" text-anchor="end" fill="#000" transform="rotate(-45 94.25 612.40)">CAS 50 μg/mL</text>
<text x="123.70" y="612.40" font-size="9.4" font-weight="bold" text-anchor="end" fill="#000" transform="rotate(-45 123.70 612.40)">COL 20 μM</text>
<text x="149.75" y="612.40" font-size="9.4" font-weight="bold" text-anchor="end" fill="#000" transform="rotate(-45 149.75 612.40)">COL 40 μM</text>
<text x="176.90" y="612.60" font-size="9.4" font-weight="bold" text-anchor="end" fill="#000" transform="rotate(-45 176.90 612.60)">COL 80 μM</text>
<text x="200.95" y="611.00" font-size="9.4" font-weight="bold" text-anchor="end" fill="#000" transform="rotate(-45 200.95 611.00)">CAS 50 μg/mL</text>
<text x="208.76" y="617.61" font-size="9.4" font-weight="bold" text-anchor="end" fill="#000" transform="rotate(-45 208.76 617.61)">+COL 20 μM</text>
<text x="233.60" y="611.00" font-size="9.4" font-weight="bold" text-anchor="end" fill="#000" transform="rotate(-45 233.60 611.00)">CAS 50 μg/mL</text>
<text x="241.41" y="617.61" font-size="9.4" font-weight="bold" text-anchor="end" fill="#000" transform="rotate(-45 241.41 617.61)">+COL 40 μM</text>
<text x="264.25" y="611.00" font-size="9.4" font-weight="bold" text-anchor="end" fill="#000" transform="rotate(-45 264.25 611.00)">CAS 50 μg/mL</text>
<text x="272.06" y="617.61" font-size="9.4" font-weight="bold" text-anchor="end" fill="#000" transform="rotate(-45 272.06 617.61)">+COL 80 μM</text>
<text x="322.60" y="367.60" font-size="15.5" font-weight="bold" text-anchor="start" fill="#000">d.</text>
<line x1="357.00" y1="394.60" x2="357.00" y2="522.70" stroke="#000" stroke-width="1.4"/>
<line x1="353.60" y1="522.20" x2="357.00" y2="522.20" stroke="#000" stroke-width="1.2"/>
<text x="351.80" y="525.40" font-size="9.2" text-anchor="end" fill="#000" stroke="#000" stroke-width="0.2">0</text>
<line x1="353.60" y1="501.08" x2="357.00" y2="501.08" stroke="#000" stroke-width="1.2"/>
<text x="351.80" y="504.28" font-size="9.2" text-anchor="end" fill="#000" stroke="#000" stroke-width="0.2">20</text>
<line x1="353.60" y1="479.96" x2="357.00" y2="479.96" stroke="#000" stroke-width="1.2"/>
<text x="351.80" y="483.16" font-size="9.2" text-anchor="end" fill="#000" stroke="#000" stroke-width="0.2">40</text>
<line x1="353.60" y1="458.84" x2="357.00" y2="458.84" stroke="#000" stroke-width="1.2"/>
<text x="351.80" y="462.04" font-size="9.2" text-anchor="end" fill="#000" stroke="#000" stroke-width="0.2">60</text>
<line x1="353.60" y1="437.72" x2="357.00" y2="437.72" stroke="#000" stroke-width="1.2"/>
<text x="351.80" y="440.92" font-size="9.2" text-anchor="end" fill="#000" stroke="#000" stroke-width="0.2">80</text>
<line x1="353.60" y1="416.60" x2="357.00" y2="416.60" stroke="#000" stroke-width="1.2"/>
<text x="351.80" y="419.80" font-size="9.2" text-anchor="end" fill="#000" stroke="#000" stroke-width="0.2">100</text>
<line x1="353.60" y1="395.48" x2="357.00" y2="395.48" stroke="#000" stroke-width="1.2"/>
<text x="351.80" y="398.68" font-size="9.2" text-anchor="end" fill="#000" stroke="#000" stroke-width="0.2">120</text>
<line x1="353.60" y1="522.20" x2="543.60" y2="522.20" stroke="#000" stroke-width="1.4"/>
<line x1="357.40" y1="522.20" x2="357.40" y2="525.80" stroke="#000" stroke-width="1.2"/>
<text x="357.40" y="538.80" font-size="9.2" text-anchor="middle" fill="#000" stroke="#000" stroke-width="0.2">0</text>
<line x1="394.52" y1="522.20" x2="394.52" y2="525.80" stroke="#000" stroke-width="1.2"/>
<text x="394.52" y="538.80" font-size="9.2" text-anchor="middle" fill="#000" stroke="#000" stroke-width="0.2">2</text>
<line x1="431.64" y1="522.20" x2="431.64" y2="525.80" stroke="#000" stroke-width="1.2"/>
<text x="431.64" y="538.80" font-size="9.2" text-anchor="middle" fill="#000" stroke="#000" stroke-width="0.2">4</text>
<line x1="468.76" y1="522.20" x2="468.76" y2="525.80" stroke="#000" stroke-width="1.2"/>
<text x="468.76" y="538.80" font-size="9.2" text-anchor="middle" fill="#000" stroke="#000" stroke-width="0.2">6</text>
<line x1="505.88" y1="522.20" x2="505.88" y2="525.80" stroke="#000" stroke-width="1.2"/>
<text x="505.88" y="538.80" font-size="9.2" text-anchor="middle" fill="#000" stroke="#000" stroke-width="0.2">8</text>
<line x1="543.00" y1="522.20" x2="543.00" y2="525.80" stroke="#000" stroke-width="1.2"/>
<text x="543.00" y="538.80" font-size="9.2" text-anchor="middle" fill="#000" stroke="#000" stroke-width="0.2">10</text>
<text x="449.80" y="553.60" font-size="9.9" text-anchor="middle" fill="#000" stroke="#000" stroke-width="0.2">Days post infection</text>
<text x="330.20" y="458.60" font-size="10.3" text-anchor="middle" fill="#000" transform="rotate(-90 330.20 458.60)" stroke="#000" stroke-width="0.2">Survival %</text>
<path d="M413.08,416.60 L413.08,416.60 L413.08,437.72 L431.64,437.72 L431.64,448.28 L450.20,448.28 L450.20,453.56 L505.88,453.56 L505.88,458.84 L505.88,458.84" stroke="#f8a040" stroke-width="1.6" fill="none"/>
<path d="M375.96,416.60 L375.96,416.60 L375.96,427.16 L394.52,427.16 L394.52,432.44" stroke="#30d030" stroke-width="1.6" fill="none"/>
<path d="M431.64,479.96 L431.64,479.96 L431.64,495.80 L450.20,495.80 L450.20,506.36 L468.76,506.36 L468.76,511.64 L505.88,511.64" stroke="#30d030" stroke-width="1.6" fill="none"/>
<path d="M375.96,416.60 L375.96,416.60 L375.96,421.88 L394.52,421.88 L394.52,427.16 L413.08,427.16 L413.08,458.84 L431.64,458.84 L431.64,474.68 L450.20,474.68 L450.20,485.24 L487.32,485.24 L487.32,495.80 L505.88,495.80 L505.88,506.36 L505.88,506.36" stroke="#c050f0" stroke-width="1.6" fill="none"/>
<path d="M375.96,416.60 L375.96,416.60 L375.96,432.44 L394.52,432.44 L394.52,453.56 L413.08,453.56 L413.08,474.68 L431.64,474.68 L431.64,479.96 L450.20,479.96 L450.20,490.52 L468.76,490.52 L468.76,501.08 L487.32,501.08 L487.32,522.20 L487.32,522.20" stroke="#f03c30" stroke-width="1.6" fill="none"/>
<line x1="357.40" y1="416.60" x2="505.88" y2="416.60" stroke="#2850f0" stroke-width="1.6"/>
<line x1="551.30" y1="364.00" x2="564.80" y2="364.00" stroke="#2850f0" stroke-width="1.3"/>
<text x="572.40" y="367.00" font-size="9.8" text-anchor="start" fill="#000" stroke="#000" stroke-width="0.25">PBS</text>
<line x1="551.30" y1="381.70" x2="564.80" y2="381.70" stroke="#f03c30" stroke-width="1.3"/>
<text x="572.40" y="384.70" font-size="9.8" text-anchor="start" fill="#000" stroke="#000" stroke-width="0.25">No drug</text>
<line x1="551.30" y1="399.50" x2="564.80" y2="399.50" stroke="#30d030" stroke-width="1.3"/>
<text x="572.40" y="402.50" font-size="9.8" text-anchor="start" fill="#000" stroke="#000" stroke-width="0.25">CAS</text>
<line x1="551.30" y1="417.30" x2="564.80" y2="417.30" stroke="#c050f0" stroke-width="1.3"/>
<text x="572.40" y="420.30" font-size="9.8" text-anchor="start" fill="#000" stroke="#000" stroke-width="0.25">COL</text>
<line x1="551.30" y1="435.10" x2="564.80" y2="435.10" stroke="#f8a040" stroke-width="1.3"/>
<text x="572.40" y="438.10" font-size="9.8" text-anchor="start" fill="#000" stroke="#000" stroke-width="0.25">CAS+COL</text>
<path d="M613.4,382.4 L618.0,382.4 L618.0,408.1 L613.4,408.1" stroke="#000" stroke-width="1.4" fill="none"/>
<text x="620.60" y="399.40" font-size="9.9" text-anchor="start" fill="#000" stroke="#000" stroke-width="0.3">n.s.</text>
<path d="M638.5,381.6 L643.1,381.6 L643.1,418.9 L638.5,418.9" stroke="#000" stroke-width="1.4" fill="none"/>
<text x="651.40" y="404.30" font-size="9.9" text-anchor="start" fill="#000" stroke="#000" stroke-width="0.3">n.s.</text>
<path d="M664.7,381.6 L669.6,381.6 L669.6,437.0 L664.7,437.0" stroke="#000" stroke-width="1.4" fill="none"/>
<polygon points="676.20,406.60 676.62,407.87 677.93,407.60 677.04,408.60 677.93,409.60 676.62,409.33 676.20,410.60 675.78,409.33 674.47,409.60 675.36,408.60 674.47,407.60 675.78,407.87" fill="#000"/>
<polygon points="680.00,406.60 680.42,407.87 681.73,407.60 680.84,408.60 681.73,409.60 680.42,409.33 680.00,410.60 679.58,409.33 678.27,409.60 679.16,408.60 678.27,407.60 679.58,407.87" fill="#000"/>
<polygon points="683.80,406.60 684.22,407.87 685.53,407.60 684.64,408.60 685.53,409.60 684.22,409.33 683.80,410.60 683.38,409.33 682.07,409.60 682.96,408.60 682.07,407.60 683.38,407.87" fill="#000"/>
<path d="M530.2,399.2 L525.7,399.2 L525.7,437.0 L530.2,437.0" stroke="#000" stroke-width="1.4" fill="none"/>
<polygon points="511.90,416.60 512.32,417.87 513.63,417.60 512.74,418.60 513.63,419.60 512.32,419.33 511.90,420.60 511.48,419.33 510.17,419.60 511.06,418.60 510.17,417.60 511.48,417.87" fill="#000"/>
<polygon points="515.80,416.60 516.22,417.87 517.53,417.60 516.64,418.60 517.53,419.60 516.22,419.33 515.80,420.60 515.38,419.33 514.07,419.60 514.96,418.60 514.07,417.60 515.38,417.87" fill="#000"/>
<polygon points="519.70,416.60 520.12,417.87 521.43,417.60 520.54,418.60 521.43,419.60 520.12,419.33 519.70,420.60 519.28,419.33 517.97,419.60 518.86,418.60 517.97,417.60 519.28,417.87" fill="#000"/>
<path d="M548.6,418.8 L543.8,418.8 L543.8,435.6 L548.6,435.6" stroke="#000" stroke-width="1.4" fill="none"/>
<polygon points="534.65,426.30 535.07,427.57 536.38,427.30 535.49,428.30 536.38,429.30 535.07,429.03 534.65,430.30 534.23,429.03 532.92,429.30 533.81,428.30 532.92,427.30 534.23,427.57" fill="#000"/>
<polygon points="538.55,426.30 538.97,427.57 540.28,427.30 539.39,428.30 540.28,429.30 538.97,429.03 538.55,430.30 538.13,429.03 536.82,429.30 537.71,428.30 536.82,427.30 538.13,427.57" fill="#000"/>
<text x="322.30" y="583.20" font-size="16" font-weight="bold" text-anchor="start" fill="#000">e.</text>
<line x1="362.90" y1="623.40" x2="362.90" y2="735.80" stroke="#000" stroke-width="1.7"/>
<line x1="358.60" y1="735.00" x2="362.90" y2="735.00" stroke="#000" stroke-width="1.4"/>
<text x="356.60" y="738.60" font-size="10.2" font-weight="bold" text-anchor="end" fill="#000">0</text>
<line x1="358.60" y1="712.93" x2="362.90" y2="712.93" stroke="#000" stroke-width="1.4"/>
<text x="356.60" y="716.53" font-size="10.2" font-weight="bold" text-anchor="end" fill="#000">20</text>
<line x1="358.60" y1="690.86" x2="362.90" y2="690.86" stroke="#000" stroke-width="1.4"/>
<text x="356.60" y="694.46" font-size="10.2" font-weight="bold" text-anchor="end" fill="#000">40</text>
<line x1="358.60" y1="668.79" x2="362.90" y2="668.79" stroke="#000" stroke-width="1.4"/>
<text x="356.60" y="672.39" font-size="10.2" font-weight="bold" text-anchor="end" fill="#000">60</text>
<line x1="358.60" y1="646.72" x2="362.90" y2="646.72" stroke="#000" stroke-width="1.4"/>
<text x="356.60" y="650.32" font-size="10.2" font-weight="bold" text-anchor="end" fill="#000">80</text>
<line x1="358.60" y1="624.65" x2="362.90" y2="624.65" stroke="#000" stroke-width="1.4"/>
<text x="356.60" y="628.25" font-size="10.2" font-weight="bold" text-anchor="end" fill="#000">100</text>
<line x1="358.60" y1="735.00" x2="530.00" y2="735.00" stroke="#000" stroke-width="1.8"/>
<line x1="362.90" y1="735.00" x2="362.90" y2="739.00" stroke="#000" stroke-width="1.4"/>
<text x="362.90" y="751.60" font-size="10.2" font-weight="bold" text-anchor="middle" fill="#000">0</text>
<line x1="410.20" y1="735.00" x2="410.20" y2="739.00" stroke="#000" stroke-width="1.4"/>
<text x="410.20" y="751.60" font-size="10.2" font-weight="bold" text-anchor="middle" fill="#000">1</text>
<line x1="457.50" y1="735.00" x2="457.50" y2="739.00" stroke="#000" stroke-width="1.4"/>
<text x="457.50" y="751.60" font-size="10.2" font-weight="bold" text-anchor="middle" fill="#000">2</text>
<line x1="504.80" y1="735.00" x2="504.80" y2="739.00" stroke="#000" stroke-width="1.4"/>
<text x="504.80" y="751.60" font-size="10.2" font-weight="bold" text-anchor="middle" fill="#000">3</text>
<text x="446.00" y="767.80" font-size="10.6" font-weight="bold" text-anchor="middle" fill="#000">Days post infection</text>
<text x="334.00" y="678.00" font-size="10.4" font-weight="bold" text-anchor="middle" fill="#000" transform="rotate(-90 334.00 678.00)">Survival %</text>
<path d="M410.20,624.65 L410.20,624.65 L410.20,634.69 L457.50,634.69 L457.50,673.54 L504.80,673.54 L504.80,716.46 L529.87,716.46" stroke="#f8a048" stroke-width="1.6" fill="none"/>
<path d="M457.50,638.44 L457.50,638.44 L457.50,705.32 L504.80,705.32 L504.80,727.61 L529.87,727.61" stroke="#a010e0" stroke-width="1.8" fill="none"/>
<path d="M410.20,624.65 L410.20,624.65 L410.20,638.44 L457.50,638.44 L457.50,695.49 L504.80,695.49 L504.80,724.63 L529.87,724.63" stroke="#10c010" stroke-width="1.8" fill="none"/>
<path d="M410.20,624.65 L410.20,624.65 L410.20,648.60 L457.50,648.60 L457.50,719.44 L504.80,719.44 L504.80,732.90 L529.87,732.90" stroke="#f00000" stroke-width="1.8" fill="none"/>
<path d="M362.90,624.65 L504.80,624.65 L504.80,626.86 L529.87,626.86" stroke="#0000f0" stroke-width="1.8" fill="none"/>
<line x1="561.40" y1="620.10" x2="574.90" y2="620.10" stroke="#2040f0" stroke-width="1.3"/>
<text x="580.20" y="623.50" font-size="9.4" font-weight="bold" text-anchor="start" fill="#000">Water</text>
<line x1="561.40" y1="637.70" x2="574.90" y2="637.70" stroke="#f03030" stroke-width="1.3"/>
<text x="580.20" y="641.10" font-size="9.4" font-weight="bold" text-anchor="start" fill="#000">No drug</text>
<line x1="561.40" y1="655.30" x2="574.90" y2="655.30" stroke="#30d030" stroke-width="1.3"/>
<text x="580.20" y="658.70" font-size="9.4" font-weight="bold" text-anchor="start" fill="#000">CAS</text>
<line x1="561.40" y1="673.10" x2="574.90" y2="673.10" stroke="#c050f0" stroke-width="1.3"/>
<text x="580.20" y="676.50" font-size="9.4" font-weight="bold" text-anchor="start" fill="#000">COL</text>
<line x1="561.40" y1="690.70" x2="574.90" y2="690.70" stroke="#f8a040" stroke-width="1.3"/>
<text x="580.20" y="694.10" font-size="9.4" font-weight="bold" text-anchor="start" fill="#000">CAS + COL</text>
<path d="M559.0,638.4 L554.2,638.4 L554.2,673.1 L559.0,673.1" stroke="#000" stroke-width="1.4" fill="none"/>
<text x="0.00" y="0.00" font-size="10.2" text-anchor="start" fill="#000" transform="translate(534.80 657.10) scale(0.95 1)" stroke="#000" stroke-width="0.35">n.s.</text>
<path d="M633.2,667.8 L638.0,667.8 L638.0,689.0 L633.2,689.0" stroke="#000" stroke-width="1.4" fill="none"/>
<polygon points="647.15,674.20 647.57,675.47 648.88,675.20 647.99,676.20 648.88,677.20 647.57,676.93 647.15,678.20 646.73,676.93 645.42,677.20 646.31,676.20 645.42,675.20 646.73,675.47" fill="#000"/>
<polygon points="651.05,674.20 651.47,675.47 652.78,675.20 651.89,676.20 652.78,677.20 651.47,676.93 651.05,678.20 650.63,676.93 649.32,677.20 650.21,676.20 649.32,675.20 650.63,675.47" fill="#000"/>
<path d="M654.2,655.3 L659.0,655.3 L659.0,691.2 L654.2,691.2" stroke="#000" stroke-width="1.4" fill="none"/>
<polygon points="668.25,671.80 668.67,673.07 669.98,672.80 669.09,673.80 669.98,674.80 668.67,674.53 668.25,675.80 667.83,674.53 666.52,674.80 667.41,673.80 666.52,672.80 667.83,673.07" fill="#000"/>
<polygon points="672.15,671.80 672.57,673.07 673.88,672.80 672.99,673.80 673.88,674.80 672.57,674.53 672.15,675.80 671.73,674.53 670.42,674.80 671.31,673.80 670.42,672.80 671.73,673.07" fill="#000"/>
<polygon points="676.05,671.80 676.47,673.07 677.78,672.80 676.89,673.80 677.78,674.80 676.47,674.53 676.05,675.80 675.63,674.53 674.32,674.80 675.21,673.80 674.32,672.80 675.63,673.07" fill="#000"/>
<polygon points="679.95,671.80 680.37,673.07 681.68,672.80 680.79,673.80 681.68,674.80 680.37,674.53 679.95,675.80 679.53,674.53 678.22,674.80 679.11,673.80 678.22,672.80 679.53,673.07" fill="#000"/>
</svg></body></html>
